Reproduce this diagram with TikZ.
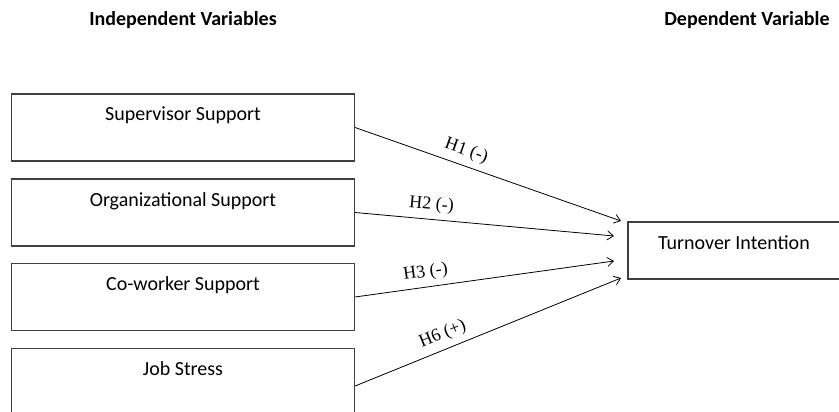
\documentclass[tikz,border=0pt]{standalone}
\usepackage{fontspec}
\setmainfont{Carlito}
\newfontfamily\hypfont{Liberation Serif}
\usetikzlibrary{arrows.meta}
\tikzset{
  varbox/.style={draw=black!75, line width=1.2pt, rectangle, inner sep=0pt,
    minimum width=343pt, text height=27pt, text depth=40pt, font=\fontsize{20}{24}\selectfont},
  depbox/.style={varbox, minimum width=212pt, text height=27pt, text depth=30pt},
  head/.style={font=\bfseries\fontsize{20}{24}\selectfont},
  hyp/.style={-{Straight Barb[length=6pt,width=9pt]}, line width=0.8pt},
  hlab/.style={sloped, above=6pt, inner sep=0pt, font=\hypfont\fontsize{18}{20}\selectfont}
}
\begin{document}
\begin{tikzpicture}[x=1pt,y=-1pt]
    \useasboundingbox (0,0) rectangle (839,412);
    % titulos
    \node[head] (indep) at (183,20) {Independent Variables};
    \node[head] (dep) at (747,20) {Dependent Variable};
    % variables independientes
    \node[varbox] (sup) at (183,127.5) {Supervisor Support};
    \node[varbox] (org) at (183,212.5) {Organizational Support};
    \node[varbox] (cow) at (183,297) {Co-worker Support};
    \node[varbox] (job) at (183,382) {Job Stress};
    % variable dependiente
    \node[depbox] (turn) at (734,250.5) {Turnover Intention};
    % puntas de flecha
    \coordinate (e1) at (621,221);
    \coordinate (e2) at (614,236);
    \coordinate (e3) at (614,261);
    \coordinate (e4) at (621,278);
    % hipotesis
    \draw[hyp] (sup.east) -- (e1) node[hlab, pos=0.40] {H1 (-)};
    \draw[hyp] (org.east) -- (e2) node[hlab, pos=0.29] {H2 (-)};
    \draw[hyp] (cow.east) -- (e3) node[hlab, pos=0.28] {H3 (-)};
    \draw[hyp] ([yshift=-4pt]job.east) -- (e4) node[hlab, pos=0.35] {H6 (+)};
\end{tikzpicture}
\end{document}
